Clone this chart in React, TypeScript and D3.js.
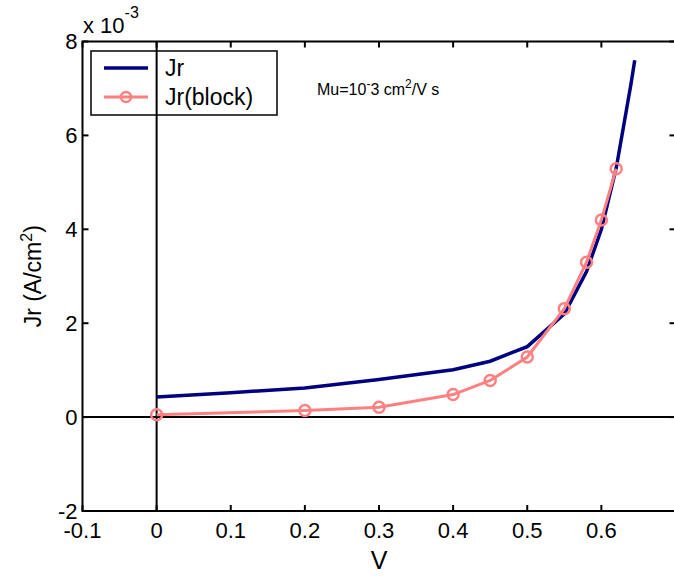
import React from 'react';
import * as d3 from 'd3';

// values, J in units of 1e-3 A/cm^2
const jrVolts = [0, 0.1, 0.2, 0.3, 0.4, 0.45, 0.5, 0.55, 0.58, 0.6, 0.62, 0.63, 0.64, 0.645];
const jrValues = [0.43, 0.52, 0.62, 0.8, 1.01, 1.19, 1.5, 2.2, 3.1, 4.0, 5.3, 6.2, 7.1, 7.6];

const blockVolts = [0, 0.2, 0.3, 0.4, 0.45, 0.5, 0.55, 0.58, 0.6, 0.62];
const blockValues = [0.05, 0.14, 0.21, 0.48, 0.78, 1.28, 2.31, 3.3, 4.2, 5.29];

const xTicks = [-0.1, 0, 0.1, 0.2, 0.3, 0.4, 0.5, 0.6, 0.7];
// the 0.7 label falls outside the picture, so it has none
const xTickLabels = ['-0.1', '0', '0.1', '0.2', '0.3', '0.4', '0.5', '0.6', ''];
const yTicks = [-2, 0, 2, 4, 6, 8];
const yTickLabels = ['-2', '0', '2', '4', '6', '8'];

const width = 674;
const height = 576;
const margin = { left: 82.5, right: -1.5, top: 41.5, bottom: 65 };

const BLUE = '#000080';
const PINK = '#ff8080';
const FONT = 'Liberation Sans, Arial, sans-serif';

const App = () => {
  const xScale = d3.scaleLinear().domain([-0.1, 0.7]).range([margin.left, width - margin.right]);
  const yScale = d3.scaleLinear().domain([-2, 8]).range([height - margin.bottom, margin.top]);

  const jr = jrVolts.map((v, i) => [v, jrValues[i]] as [number, number]);
  const block = blockVolts.map((v, i) => [v, blockValues[i]] as [number, number]);

  const line = d3.line<[number, number]>()
    .x(d => xScale(d[0]))
    .y(d => yScale(d[1]));

  const x0 = xScale.range()[0];
  const x1 = xScale.range()[1];
  const y0 = yScale.range()[0];
  const y1 = yScale.range()[1];
  const tick = 6;

  return (
    <svg width={width} height={height} style={{ position: 'absolute', left: 0, top: 0, background: '#fff' }}
      fontFamily={FONT}>
      <rect x={0} y={0} width={width} height={height} fill="#fff" />

      {/* zero lines */}
      <line x1={x0} x2={x1} y1={yScale(0)} y2={yScale(0)} stroke="#000" strokeWidth={2} />
      <line x1={xScale(0)} x2={xScale(0)} y1={y0} y2={y1} stroke="#000" strokeWidth={2} />

      {/* ticks */}
      {xTicks.map((t, i) => (
        <g key={'x' + t}>
          <line x1={xScale(t)} x2={xScale(t)} y1={y0} y2={y0 - tick} stroke="#000" strokeWidth={2} />
          <line x1={xScale(t)} x2={xScale(t)} y1={y1} y2={y1 + tick} stroke="#000" strokeWidth={2} />
          <text x={xScale(t)} y={y0 + 27} textAnchor="middle" fontSize={22} fill="#000">{xTickLabels[i]}</text>
        </g>
      ))}
      {yTicks.map((t, i) => (
        <g key={'y' + t}>
          <line x1={x0} x2={x0 + tick} y1={yScale(t)} y2={yScale(t)} stroke="#000" strokeWidth={2} />
          <line x1={x1} x2={x1 - tick} y1={yScale(t)} y2={yScale(t)} stroke="#000" strokeWidth={2} />
          <text x={x0 - 5} y={yScale(t)} dy="0.36em" textAnchor="end" fontSize={22} fill="#000">{yTickLabels[i]}</text>
        </g>
      ))}

      {/* box */}
      <rect x={x0} y={y1} width={x1 - x0} height={y0 - y1} fill="none" stroke="#000" strokeWidth={2} />

      {/* exponent */}
      <text x={83} y={33} fontSize={22} fill="#000">x 10<tspan dy={-15} fontSize={16}>-3</tspan></text>

      {/* series */}
      <path d={line(jr) ?? ''} fill="none" stroke={BLUE} strokeWidth={3.5} />
      <path d={line(block) ?? ''} fill="none" stroke={PINK} strokeWidth={3} />
      {block.map((d, i) => (
        <circle key={i} cx={xScale(d[0])} cy={yScale(d[1])} r={5.5} fill="none" stroke={PINK} strokeWidth={2.5} />
      ))}

      {/* annotation */}
      <text x={317} y={95} fontSize={16} fill="#000">
        Mu=10<tspan dy={-7} fontSize={12}>-</tspan><tspan dy={7}>3 cm</tspan><tspan dy={-7} fontSize={12}>2</tspan><tspan dy={7}>/V s</tspan>
      </text>

      {/* legend */}
      <rect x={91} y={51} width={186} height={64} fill="#fff" stroke="#000" strokeWidth={1.5} />
      <line x1={xScale(0)} x2={xScale(0)} y1={51} y2={115} stroke="#000" strokeWidth={2} />
      <line x1={104} x2={148} y1={68} y2={68} stroke={BLUE} strokeWidth={3.5} />
      <line x1={104} x2={148} y1={97} y2={97} stroke={PINK} strokeWidth={3} />
      <circle cx={126} cy={97} r={5} fill="none" stroke={PINK} strokeWidth={2.5} />
      <text x={165} y={76} fontSize={23} fill="#000">Jr</text>
      <text x={165} y={105} fontSize={23} fill="#000">Jr(block)</text>

      {/* axis labels */}
      <text x={379} y={569} textAnchor="middle" fontSize={25} fill="#000">V</text>
      <text transform={`translate(41, ${(y0 + y1) / 2}) rotate(-90)`} textAnchor="middle" fontSize={23} fill="#000">
        Jr (A/cm<tspan dy={-9} fontSize={16}>2</tspan><tspan dy={9}>)</tspan>
      </text>
    </svg>
  );
};

export default App;
